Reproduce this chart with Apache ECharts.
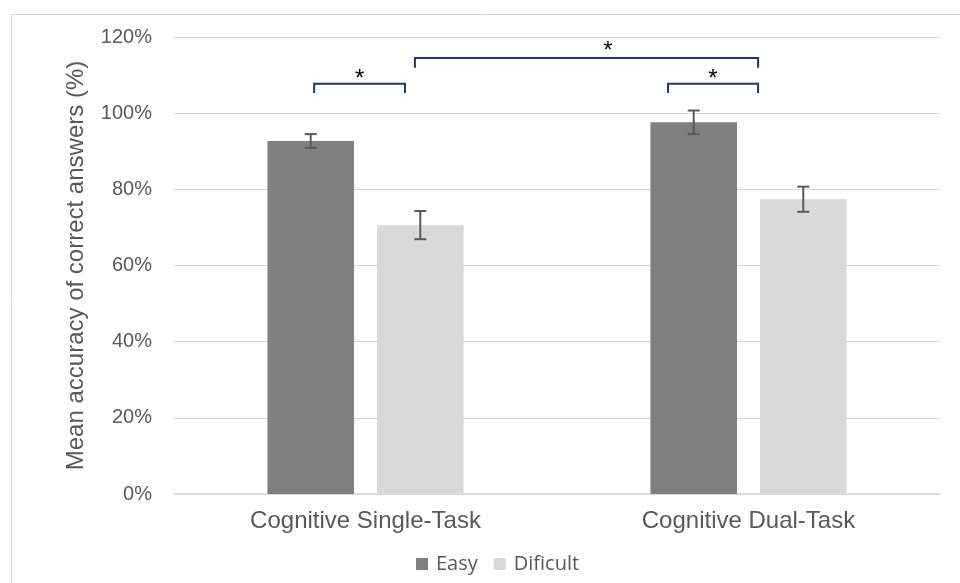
<!DOCTYPE html>
<html>
<head>
<meta charset="utf-8">
<script src="https://cdn.jsdelivr.net/npm/echarts@6/dist/echarts.min.js"></script>
<style>
  html, body { margin: 0; padding: 0; background: #fff; }
  #main { width: 960px; height: 583px; }
</style>
</head>
<body>
<div id="main"></div>
<script>
// data
var categories = ['Cognitive Single-Task', 'Cognitive Dual-Task'];
var easy = [92.7, 97.6];
var easyErr = [1.8, 3.1];
var difficult = [70.6, 77.4];
var difficultErr = [3.7, 3.3];
var yTicks = [0, 20, 40, 60, 80, 100, 120];

// significance brackets: [x start, x end, top, leg end] (x in category units)
var brackets = [
  [-0.134, 0.103, 107.7, 105.3],
  [0.129, 1.025, 114.5, 111.9],
  [0.79, 1.025, 107.7, 105.3]
];
// stars: [x, y]
var stars = [
  [-0.015, 108.8],
  [0.633, 116.3],
  [0.907, 108.8]
];

var barRatio = 0.226;
var gapRatio = 0.266;

var chart = echarts.init(document.getElementById('main'));

function errorItem(seriesIdx) {
  return function (params, api) {
    var band = api.size([1, 0])[0];
    var bw = band * barRatio;
    var off = (bw + bw * gapRatio) / 2 * (seriesIdx === 0 ? -1 : 1);
    var idx = api.value(0);
    var hi = api.coord([idx, api.value(1)]);
    var lo = api.coord([idx, api.value(2)]);
    var x = hi[0] + off;
    var cap = 6;
    var st = { stroke: '#595959', lineWidth: 2 };
    return {
      type: 'group',
      children: [
        { type: 'line', shape: { x1: x, y1: hi[1], x2: x, y2: lo[1] }, style: st },
        { type: 'line', shape: { x1: x - cap, y1: hi[1], x2: x + cap, y2: hi[1] }, style: st },
        { type: 'line', shape: { x1: x - cap, y1: lo[1], x2: x + cap, y2: lo[1] }, style: st }
      ]
    };
  };
}

var option = {
  animation: false,
  backgroundColor: '#fff',
  graphic: [{
    type: 'rect',
    shape: { x: 11.5, y: 14.5, width: 1000, height: 1000 },
    style: { fill: 'none', stroke: '#d9d9d9', lineWidth: 1 },
    silent: true
  }],
  grid: { left: 174, right: 20, top: 37, bottom: 89 },
  legend: {
    data: ['Easy', 'Dificult'],
    left: 411,
    top: 549,
    icon: 'rect',
    itemWidth: 12,
    itemHeight: 12,
    itemGap: 16,
    textStyle: { fontFamily: 'Open Sans', fontSize: 20, color: '#595959', padding: [0, 0, 0, 3] }
  },
  xAxis: [{
    type: 'category',
    data: categories,
    axisLine: { lineStyle: { color: '#d9d9d9', width: 1.5 } },
    axisTick: { show: false },
    axisLabel: { fontFamily: 'Liberation Sans', fontSize: 24, color: '#595959', margin: 15 }
  }, {
    type: 'value',
    min: -0.5,
    max: 1.5,
    show: false
  }],
  yAxis: {
    type: 'value',
    min: 0,
    max: 120,
    interval: 20,
    name: 'Mean accuracy of correct answers (%)',
    nameLocation: 'middle',
    nameGap: 86,
    nameTextStyle: { fontFamily: 'Liberation Sans', fontSize: 24, color: '#595959' },
    axisLine: { show: false },
    axisTick: { show: false },
    splitLine: { lineStyle: { color: '#d9d9d9', width: 1 } },
    axisLabel: {
      fontFamily: 'Liberation Sans', fontSize: 20, color: '#595959', margin: 22,
      formatter: function (v) { return yTicks.indexOf(v) >= 0 ? v + '%' : ''; }
    }
  },
  series: [{
    name: 'Easy',
    type: 'bar',
    data: easy,
    barWidth: (barRatio * 100) + '%',
    barGap: (gapRatio * 100) + '%',
    itemStyle: { color: '#7f7f7f' }
  }, {
    name: 'Dificult',
    type: 'bar',
    data: difficult,
    barWidth: (barRatio * 100) + '%',
    barGap: (gapRatio * 100) + '%',
    itemStyle: { color: '#d9d9d9' }
  }, {
    name: 'errEasy',
    type: 'custom',
    renderItem: errorItem(0),
    data: easy.map(function (v, i) { return [i, v + easyErr[i], v - easyErr[i]]; }),
    z: 10
  }, {
    name: 'errDificult',
    type: 'custom',
    renderItem: errorItem(1),
    data: difficult.map(function (v, i) { return [i, v + difficultErr[i], v - difficultErr[i]]; }),
    z: 10
  }, {
    name: 'brackets',
    type: 'custom',
    xAxisIndex: 1,
    renderItem: function (params, api) {
      var a = api.coord([api.value(0), api.value(2)]);
      var b = api.coord([api.value(1), api.value(2)]);
      var legA = api.coord([api.value(0), api.value(3)]);
      var legB = api.coord([api.value(1), api.value(3)]);
      return {
        type: 'polyline',
        shape: { points: [legA, a, b, legB] },
        style: { fill: 'none', stroke: '#203864', lineWidth: 2 }
      };
    },
    data: brackets,
    z: 10
  }, {
    name: 'stars',
    type: 'custom',
    xAxisIndex: 1,
    renderItem: function (params, api) {
      var p = api.coord([api.value(0), api.value(1)]);
      return {
        type: 'text',
        x: p[0],
        y: p[1],
        style: {
          text: '*', fill: '#000', fontFamily: 'Liberation Sans', fontSize: 24,
          align: 'center', verticalAlign: 'middle'
        }
      };
    },
    data: stars,
    z: 10
  }]
};

chart.setOption(option);
</script>
</body>
</html>
